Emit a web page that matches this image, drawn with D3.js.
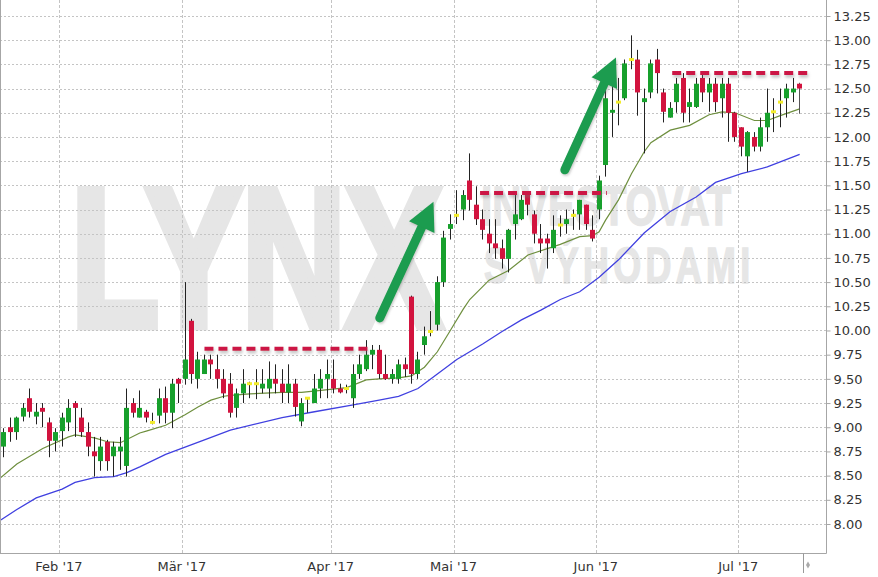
<!DOCTYPE html>
<html><head><meta charset="utf-8">
<script src="https://cdn.jsdelivr.net/npm/d3@7"></script>
<style>html,body{margin:0;padding:0;background:#fff;} svg{display:block}</style>
</head><body><svg id="c" width="878" height="577"></svg>
<script>
// ---- data ----
const dates = [
"2017-01-19","2017-01-20","2017-01-23","2017-01-24","2017-01-25","2017-01-26","2017-01-27","2017-01-30","2017-01-31",
"2017-02-01","2017-02-02","2017-02-03","2017-02-06","2017-02-07","2017-02-08","2017-02-09","2017-02-10","2017-02-13","2017-02-14","2017-02-15","2017-02-16","2017-02-17","2017-02-21","2017-02-22","2017-02-23","2017-02-24","2017-02-27","2017-02-28",
"2017-03-01","2017-03-02","2017-03-03","2017-03-06","2017-03-07","2017-03-08","2017-03-09","2017-03-10","2017-03-13","2017-03-14","2017-03-15","2017-03-16","2017-03-17","2017-03-20","2017-03-21","2017-03-22","2017-03-23","2017-03-24","2017-03-27","2017-03-28","2017-03-29","2017-03-30","2017-03-31",
"2017-04-03","2017-04-04","2017-04-05","2017-04-06","2017-04-07","2017-04-10","2017-04-11","2017-04-12","2017-04-13","2017-04-17","2017-04-18","2017-04-19","2017-04-20","2017-04-21","2017-04-24","2017-04-25","2017-04-26","2017-04-27","2017-04-28",
"2017-05-01","2017-05-02","2017-05-03","2017-05-04","2017-05-05","2017-05-08","2017-05-09","2017-05-10","2017-05-11","2017-05-12","2017-05-15","2017-05-16","2017-05-17","2017-05-18","2017-05-19","2017-05-22","2017-05-23","2017-05-24","2017-05-25","2017-05-26","2017-05-30","2017-05-31",
"2017-06-01","2017-06-02","2017-06-05","2017-06-06","2017-06-07","2017-06-08","2017-06-09","2017-06-12","2017-06-13","2017-06-14","2017-06-15","2017-06-16","2017-06-19","2017-06-20","2017-06-21","2017-06-22","2017-06-23","2017-06-26","2017-06-27","2017-06-28","2017-06-29","2017-06-30",
"2017-07-03","2017-07-05","2017-07-06","2017-07-07","2017-07-10","2017-07-11","2017-07-12","2017-07-13","2017-07-14","2017-07-17"];

const open = [8.80,9.00,8.95,9.11,9.30,9.11,9.20,9.05,8.86,
 8.96,9.05,9.25,9.10,8.95,8.75,8.65,8.85,8.70,8.75,8.60,9.25,9.10,9.16,9.05,9.12,9.30,9.15,9.50,
 9.50,10.10,9.50,9.55,9.70,9.60,9.50,9.45,9.20,9.35,9.45,9.45,9.40,9.40,9.50,9.45,9.36,9.45,9.06,9.30,9.25,9.40,9.50,
 9.50,9.40,9.40,9.30,9.55,9.60,9.75,9.80,9.55,9.50,9.50,9.65,10.35,9.55,9.85,9.99,10.06,10.50,11.05,
 11.19,11.25,11.55,11.30,11.15,11.00,10.90,10.85,10.74,11.10,11.15,11.40,11.20,10.95,10.95,10.85,11.09,11.10,11.19,11.20,11.30,11.04,
 11.25,11.71,12.25,12.36,12.40,12.80,12.80,12.36,12.46,12.80,12.46,12.20,12.36,12.61,12.31,12.31,12.61,12.46,12.55,12.40,12.55,12.25,
 12.10,11.80,12.00,11.90,12.10,12.26,12.36,12.40,12.46,12.55];
const high = [8.99,9.10,9.11,9.25,9.40,9.25,9.25,9.10,8.99,
 9.15,9.29,9.27,9.20,9.05,8.90,8.90,8.87,8.85,8.90,9.40,9.30,9.38,9.18,9.15,9.40,9.42,9.50,9.51,
 10.50,10.12,9.78,9.75,9.75,9.75,9.60,9.56,9.40,9.60,9.47,9.60,9.60,9.68,9.65,9.60,9.65,9.50,9.30,9.31,9.55,9.60,9.70,
 9.70,9.45,9.44,9.65,9.75,9.90,9.85,9.85,9.75,9.60,9.70,9.72,10.36,9.78,10.04,10.20,10.56,11.03,11.20,
 11.45,11.45,11.83,11.49,11.25,11.15,11.15,10.94,11.05,11.40,11.40,11.40,11.24,11.10,11.00,11.19,11.19,11.25,11.25,11.35,11.30,11.19,
 11.60,12.50,12.61,12.61,12.80,13.05,12.90,12.50,12.80,12.91,12.50,12.36,12.61,12.66,12.50,12.61,12.66,12.61,12.61,12.61,12.61,12.26,
 12.10,12.06,12.05,12.20,12.50,12.40,12.50,12.55,12.61,12.56];
const low = [8.69,8.85,8.87,9.06,9.10,9.03,9.00,8.69,8.75,
 8.80,8.96,8.90,8.90,8.70,8.49,8.55,8.55,8.49,8.56,8.49,9.10,9.10,9.05,9.03,9.04,9.04,8.99,9.25,
 9.44,9.45,9.40,9.55,9.50,9.40,9.30,9.10,9.10,9.25,9.30,9.29,9.35,9.30,9.35,9.25,9.25,9.11,9.01,9.15,9.25,9.30,9.30,
 9.35,9.35,9.35,9.20,9.50,9.58,9.60,9.50,9.49,9.45,9.45,9.52,9.45,9.50,9.75,9.94,10.00,10.45,10.94,
 11.10,11.14,11.24,11.09,10.94,10.80,10.74,10.64,10.60,10.94,11.14,11.19,10.90,10.80,10.64,10.80,10.97,11.00,11.04,11.04,11.04,10.92,
 11.15,11.59,12.00,12.12,12.38,12.70,12.22,11.83,12.40,12.45,12.15,12.20,12.25,12.15,12.15,12.30,12.36,12.26,12.26,12.20,11.95,11.95,
 11.80,11.64,11.85,11.85,11.95,12.05,12.10,12.20,12.36,12.24];
const close = [8.95,8.95,9.10,9.20,9.16,9.16,9.16,8.86,8.95,
 9.10,9.20,9.20,8.95,8.80,8.70,8.80,8.65,8.80,8.80,9.20,9.15,9.20,9.10,9.05,9.30,9.15,9.45,9.45,
 9.70,9.55,9.70,9.70,9.65,9.50,9.35,9.15,9.35,9.45,9.45,9.45,9.45,9.50,9.45,9.36,9.45,9.21,9.25,9.30,9.40,9.50,9.55,
 9.40,9.36,9.40,9.55,9.65,9.75,9.80,9.55,9.50,9.55,9.65,9.60,9.55,9.70,9.94,9.99,10.50,10.96,11.10,
 11.19,11.40,11.35,11.15,11.04,10.90,10.85,10.74,11.04,11.20,11.35,11.30,11.00,10.90,10.90,11.04,11.09,11.15,11.19,11.35,11.10,10.95,
 11.55,12.40,12.28,12.36,12.76,12.80,12.46,12.40,12.76,12.66,12.26,12.30,12.55,12.25,12.36,12.55,12.46,12.55,12.36,12.55,12.25,12.00,
 11.90,12.05,11.90,12.10,12.25,12.26,12.36,12.50,12.50,12.50];

// moving averages (session number, value)
const ma20Idx = [-1,2,6,10,11,14,16,18,21,22,25,28,30,32,34,35,38,43,46,49,53,56,58,61,63,65,67,69,71,72,75,78,81,86,89,91,92,93,95,97,99,100,103,106,109,111,113,116,118,120,123];
const ma20Val = [8.45,8.62,8.78,8.90,8.92,8.89,8.85,8.84,8.94,8.96,9.02,9.13,9.21,9.28,9.32,9.33,9.345,9.36,9.36,9.38,9.41,9.49,9.50,9.51,9.53,9.62,9.78,10.00,10.22,10.32,10.52,10.62,10.78,10.89,10.97,10.98,11.02,11.14,11.35,11.62,11.85,11.94,12.07,12.12,12.23,12.26,12.25,12.17,12.17,12.22,12.29];
const ma50Idx = [-1,2,5,9,11,14,17,19,21,25,31,35,43,48,54,58,61,64,67,70,74,77,80,83,86,89,92,95,99,103,107,110,114,118,123];
const ma50Val = [8.02,8.15,8.27,8.36,8.43,8.48,8.49,8.53,8.59,8.72,8.87,8.97,9.10,9.16,9.23,9.28,9.32,9.40,9.55,9.70,9.86,9.99,10.11,10.21,10.32,10.40,10.55,10.73,11.01,11.23,11.38,11.53,11.62,11.69,11.82];

const yTicks = [8.00,8.25,8.50,8.75,9.00,9.25,9.50,9.75,10.00,10.25,10.50,10.75,11.00,11.25,11.50,11.75,12.00,12.25,12.50,12.75,13.00,13.25];
const monthLabels = ["Feb '17","Mär '17","Apr '17","Mai '17","Jun '17","Jul '17"];
const monthStarts = ["2017-02-01","2017-03-01","2017-04-03","2017-05-01","2017-06-01","2017-07-03"];

const resistValue = [9.81, 11.42, 12.66];
const resistFrom = [31, 73.6, 103.3];
const resistTo = [56.9, 93.2, 124.7];

const arrowFrom = [[58.1, 10.13], [86.7, 11.66]];
const arrowTo = [[66.4, 11.33], [94.6, 12.82]];

const watermarkBig = "LYNX";
const watermarkLines = ["INVESTOVAT", "S VÝHODAMI"];

// ---- layout ----
const svg = d3.select("#c");
const W = 878, H = 577;
const plotR = 826.5, plotB = 553.5;
const x = d3.scaleLinear().domain([-0.5, dates.length - 0.5]).range([0.67, 802.9]);
const y = d3.scaleLinear().domain([8, 13.25]).range([524, 16]);

const defs = svg.append("defs");
defs.append("clipPath").attr("id","plot").append("rect").attr("x",0.5).attr("y",0).attr("width",plotR-0.5).attr("height",plotB);
const f = defs.append("filter").attr("id","sh").attr("x","-20%").attr("y","-50%").attr("width","140%").attr("height","220%");
f.append("feDropShadow").attr("dx",1).attr("dy",2.5).attr("stdDeviation",1.6).attr("flood-color","#777").attr("flood-opacity",0.45);
const f2 = defs.append("filter").attr("id","sh2").attr("x","-30%").attr("y","-30%").attr("width","160%").attr("height","160%");
f2.append("feDropShadow").attr("dx",1).attr("dy",1.5).attr("stdDeviation",1.2).attr("flood-color","#666").attr("flood-opacity",0.35);

svg.append("rect").attr("width",W).attr("height",H).attr("fill","#fff");

// watermark (condensed by horizontal scaling)
const wm = svg.append("g").attr("fill","#e6e6e6").attr("font-family","Liberation Sans, Arial, sans-serif").attr("font-weight","bold");
wm.append("text").attr("transform","translate(71,326) scale(0.735,1)").attr("font-size",196)
  .attr("stroke","#e6e6e6").attr("stroke-width",9).attr("stroke-linejoin","miter").text(watermarkBig);
wm.append("text").attr("transform","translate(481,225) scale(0.718,1)").attr("font-size",56)
  .attr("stroke","#e6e6e6").attr("stroke-width",1.5).text(watermarkLines[0]);
wm.append("text").attr("transform","translate(484,282.5) scale(0.718,1)").attr("font-size",50).attr("letter-spacing",6)
  .attr("stroke","#e6e6e6").attr("stroke-width",1.5).text(watermarkLines[1]);

// grid
const grid = svg.append("g");
grid.selectAll("line.h").data(yTicks).join("line")
  .attr("x1",0).attr("x2",plotR).attr("y1",d=>Math.round(y(d))+0.5).attr("y2",d=>Math.round(y(d))+0.5)
  .attr("stroke","#c4c4c4").attr("stroke-dasharray","2,2");
grid.selectAll("line.v").data(monthStarts).join("line")
  .attr("x1",d=>Math.round(x(dates.indexOf(d)-0.5))+0.5).attr("x2",d=>Math.round(x(dates.indexOf(d)-0.5))+0.5)
  .attr("y1",0).attr("y2",plotB).attr("stroke","#c4c4c4").attr("stroke-dasharray","3,2");

const plot = svg.append("g").attr("clip-path","url(#plot)");

// moving averages
const line = d3.line().x(d=>x(d[0])).y(d=>y(d[1]));
plot.append("path").datum(ma50Idx.map((d,i)=>[d,ma50Val[i]])).attr("d",line).attr("fill","none").attr("stroke","#4040e0").attr("stroke-width",1.3);
plot.append("path").datum(ma20Idx.map((d,i)=>[d,ma20Val[i]])).attr("d",line).attr("fill","none").attr("stroke","#6e8f3e").attr("stroke-width",1.2);

// candles
const candles = dates.map((d,i)=>({i, o:open[i], h:high[i], l:low[i], c:close[i]}));
const cg = plot.append("g");
const bw = 5;
const g = cg.selectAll("g").data(candles).join("g");
g.append("line")
  .attr("x1",d=>Math.round(x(d.i)-bw/2)+2.5).attr("x2",d=>Math.round(x(d.i)-bw/2)+2.5)
  .attr("y1",d=>y(d.h)).attr("y2",d=>y(d.l))
  .attr("stroke",(d)=>d.i===dates.length-1?"#555":"#222").attr("stroke-width",1);
g.append("rect")
  .attr("x",d=>Math.round(x(d.i)-bw/2)).attr("width",bw)
  .attr("y",d=>d.o===d.c? y(d.c)-1.5 : y(Math.max(d.o,d.c)))
  .attr("height",d=>d.o===d.c? 3 : Math.max(1, Math.abs(y(d.o)-y(d.c))))
  .attr("fill",d=>d.c>d.o?"#17a02c":(d.c<d.o?"#d2133e":"#f2ec2a"));

// resistance lines
plot.append("g").attr("filter","url(#sh)").selectAll("line").data(resistValue).join("line")
  .attr("x1",(d,i)=>x(resistFrom[i])).attr("x2",(d,i)=>x(resistTo[i]))
  .attr("y1",d=>y(d)).attr("y2",d=>y(d))
  .attr("stroke","#cc1745").attr("stroke-width",4).attr("stroke-dasharray","9,5");

// arrows
const ag = plot.append("g").attr("filter","url(#sh2)");
arrowFrom.forEach((a,k)=>{
  const x0=x(a[0]), y0=y(a[1]), x1=x(arrowTo[k][0]), y1=y(arrowTo[k][1]);
  const dx=x1-x0, dy=y1-y0, L=Math.hypot(dx,dy), ux=dx/L, uy=dy/L, nx=-uy, ny=ux;
  const hl=28, hw=14;
  const bx=x1-ux*hl, by=y1-uy*hl;
  ag.append("line").attr("x1",x0).attr("y1",y0).attr("x2",bx+ux*2).attr("y2",by+uy*2)
    .attr("stroke","#1b9c4f").attr("stroke-width",9).attr("stroke-linecap","round");
  ag.append("path").attr("d",`M${x1},${y1}L${bx+nx*hw},${by+ny*hw}L${bx-nx*hw},${by-ny*hw}Z`).attr("fill","#1b9c4f");
});

// frame
svg.append("line").attr("x1",0.5).attr("x2",0.5).attr("y1",0).attr("y2",plotB).attr("stroke","#a6a6a6");
svg.append("line").attr("x1",plotR).attr("x2",plotR).attr("y1",0).attr("y2",plotB).attr("stroke","#a6a6a6");
svg.append("line").attr("x1",0).attr("x2",plotR).attr("y1",plotB).attr("y2",plotB).attr("stroke","#a6a6a6");

// y axis
const ya = svg.append("g").attr("transform",`translate(${plotR},0)`)
  .call(d3.axisRight(y).tickValues(yTicks).tickSize(4).tickPadding(3).tickFormat(d3.format(".2f")));
ya.select(".domain").remove();
ya.selectAll(".tick line").attr("stroke","#a6a6a6");
ya.selectAll("text").attr("font-family","DejaVu Sans, Verdana, sans-serif").attr("font-size",13).attr("fill","#333");

// x axis labels
svg.append("g").selectAll("text").data(monthStarts).join("text")
  .attr("x",d=>x(dates.indexOf(d)-0.5)).attr("y",571)
  .attr("text-anchor","middle").attr("font-family","DejaVu Sans, Verdana, sans-serif").attr("font-size",13).attr("fill","#333")
  .text((d,i)=>monthLabels[i]);

// end marker
const ex = Math.round(x(dates.length-0.5))+0.5;
svg.append("line").attr("x1",ex).attr("x2",ex).attr("y1",plotB).attr("y2",573).attr("stroke","#999");
svg.append("path").attr("d",d3.symbol(d3.symbolDiamond,14)()).attr("transform",`translate(${ex+4.5},565)`).attr("fill","#aaa");
</script></body></html>
